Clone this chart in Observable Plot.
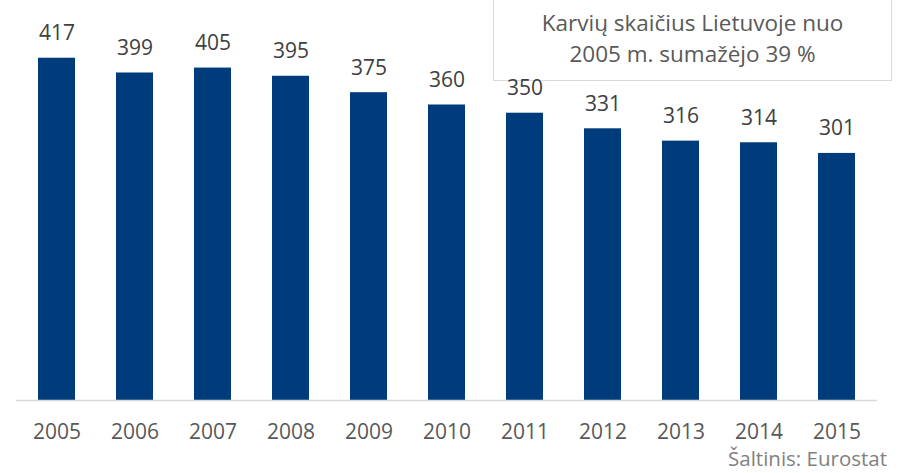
<!DOCTYPE html>
<html>
<head>
<meta charset="utf-8">
<script src="https://cdn.jsdelivr.net/npm/d3@7"></script>
<script src="https://cdn.jsdelivr.net/npm/@observablehq/plot@0.6"></script>
<style>
  html, body { margin: 0; padding: 0; background: #ffffff; }
  #wrap { position: relative; width: 900px; height: 473px; overflow: hidden; font-family: "Open Sans", sans-serif; }
  #box { position: absolute; left: 493px; top: -2px; width: 399px; height: 83px; border: 1px solid #d9d9d9; background: #ffffff;
         box-sizing: border-box; text-align: center; color: #595959; font-size: 22.5px; line-height: 31px; padding-top: 8px; }
  #src { position: absolute; right: 13px; top: 444px; color: #7f7f7f; font-size: 20.5px; }
  #chart { position: absolute; left: 0; top: 0; }
</style>
</head>
<body>
<div id="wrap">
  <div id="box">Karvių skaičius Lietuvoje nuo<br>2005 m. sumažėjo 39 %</div>
  <div id="src">Šaltinis: Eurostat</div>
  <div id="chart"></div>
</div>
<script>
const years = ["2005","2006","2007","2008","2009","2010","2011","2012","2013","2014","2015"];
const cows = [417, 399, 405, 395, 375, 360, 350, 331, 316, 314, 301];

const data = years.map((y, i) => ({year: y, value: cows[i]}));

const chart = Plot.plot({
  width: 900,
  height: 473,
  marginLeft: 16,
  marginRight: 23,
  marginTop: 6,
  marginBottom: 73,
  style: {fontFamily: "'Open Sans', sans-serif", background: "transparent", overflow: "visible"},
  x: {domain: years, paddingInner: 0.53, paddingOuter: 0.265, label: null},
  y: {domain: [0, 480], axis: null},
  marks: [
    Plot.barY(data, {x: "year", y: "value", fill: "#003c7b"}),
    Plot.ruleY([0], {stroke: "#d9d9d9", strokeWidth: 1.5}),
    Plot.text(data, {x: "year", y: "value", text: d => String(d.value), lineAnchor: "bottom", dy: -18, fontSize: 21, fill: "#404040"}),
    Plot.axisX({tickSize: 0, tickPadding: 24, fontSize: 21, color: "#595959", label: null})
  ]
});
document.getElementById("chart").appendChild(chart);
</script>
</body>
</html>
